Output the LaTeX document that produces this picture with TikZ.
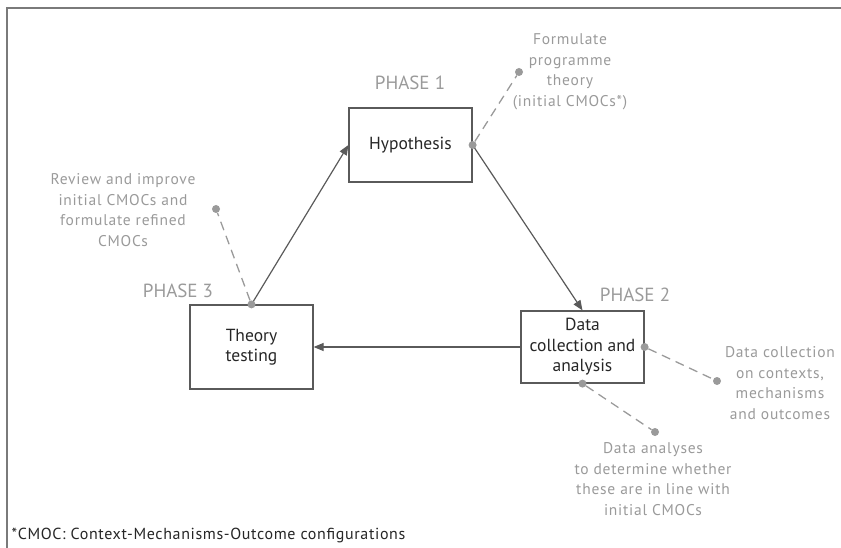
\documentclass[tikz,border=0pt]{standalone}
\usepackage{fontspec}
\setmainfont{PT Sans}
\newfontfamily\widefont[LetterSpace=5]{PT Sans}
\newfontfamily\footfont[LetterSpace=4]{PT Sans}
\usetikzlibrary{arrows.meta}

\definecolor{linegray}{HTML}{5A5A5A}
\definecolor{notegray}{HTML}{9A9A9A}
\definecolor{framegray}{HTML}{7A7A7A}

\begin{document}
\begin{tikzpicture}[x=1pt,y=-1pt,
     stage/.style={draw=linegray,line width=1.2pt,rectangle,minimum width=123pt,
                   align=center,text=black!85,font=\fontsize{17.5}{20.5}\selectfont},
     flow/.style={draw=linegray,line width=1.2pt,-{Triangle[length=10pt,width=8pt]}},
     dot/.style={circle,fill=notegray,inner sep=0pt,minimum size=8pt},
     lead/.style={draw=notegray,line width=1.3pt,dash pattern=on 9pt off 6pt},
     note/.style={align=center,text=notegray,font=\widefont\fontsize{15.5}{20.5}\selectfont},
     phase/.style={text=notegray,font=\fontsize{19}{22}\selectfont}
     ]
   \useasboundingbox (0,0) rectangle (841,548);
   % frame: only top and left edges show
   \draw[framegray,line width=1.5pt] (7,548) -- (7,8) -- (841,8);

   % the three phases
   \node[stage,minimum height=74pt] (hyp) at (410.5,145) {Hypothesis};
   \node[stage,minimum height=72pt] (data) at (582.5,347) {Data\\collection and\\analysis};
   \node[stage,minimum height=84pt] (theory) at (251.5,347) {Theory\\testing};

   \foreach \name/\txt/\x/\y in {ph1/PHASE 1/410/83,
                                 ph2/PHASE 2/635/295,
                                 ph3/PHASE 3/178/291}
   {
     \node[phase] (\name) at (\x,\y) {\txt};
   }

   \draw[flow] (theory.north) -- (hyp.west);
   \draw[flow] (hyp.east) -- (data.north);
   \draw[flow] (data.west) -- (theory.east);

   % dots on the boxes and at the ends of the dashed leads
   \node[dot] (hypdot) at (hyp.east) {};
   \node[dot] (thdot) at (theory.north) {};
   \node[dot] (dcdot) at (data.east) {};
   \node[dot] (dadot) at (data.south) {};

   \node[dot] (hypend) at (519,72) {};
   \node[dot] (thend) at (216,209) {};
   \node[dot] (dcend) at (717,381) {};
   \node[dot] (daend) at (655,432) {};

   \draw[lead] (hypdot) -- (hypend);
   \draw[lead] (thdot) -- (thend);
   \draw[lead] (dcdot) -- (dcend);
   \draw[lead] (dadot) -- (daend);

   \node[note] (hypnote) at (570,72)
      {Formulate\\programme\\theory\\(initial CMOCs*)};
   \node[note] (thnote) at (123,210)
      {Review and improve\\initial CMOCs and\\formulate refined\\CMOCs};
   \node[note] (dcnote) at (780,383)
      {Data collection\\on contexts,\\mechanisms\\and outcomes};
   \node[note] (danote) at (653,479)
      {Data analyses\\to determine whether\\these are in line with\\initial CMOCs};

   \node[anchor=west,text=black!85,font=\footfont\fontsize{16}{19}\selectfont] (foot) at (8,535)
      {*CMOC: Context-Mechanisms-Outcome configurations};
\end{tikzpicture}
\end{document}
